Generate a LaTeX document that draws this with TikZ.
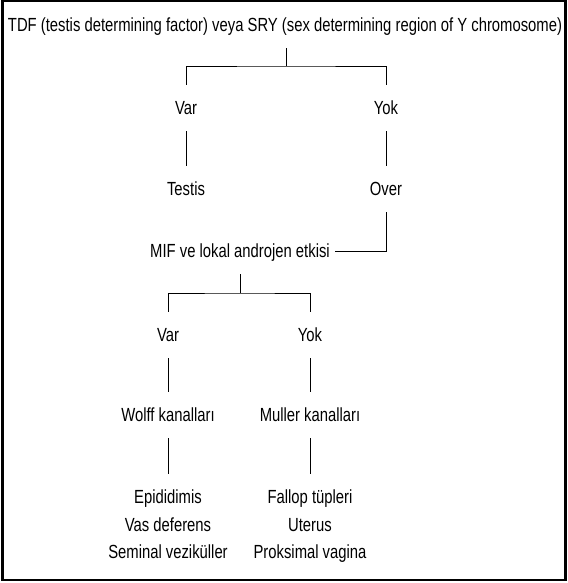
\documentclass[tikz,border=0pt]{standalone}
\usepackage{fontspec}
\setmainfont{Liberation Sans}[FakeStretch=0.78]
\begin{document}
\begin{tikzpicture}[x=1pt,y=-1pt,align=center,
  lbl/.style={inner xsep=4pt,inner ysep=0pt,text height=13.6pt,text depth=0pt,minimum height=46pt,font=\fontsize{19}{27.5}\selectfont},
  liste/.style={inner xsep=0pt,inner ysep=16pt,anchor=north,font=\fontsize{19}{27.5}\selectfont},
  cizgi/.style={line width=0.8pt}]
\useasboundingbox (0,0) rectangle (567,583);
\draw [line width=2.5pt] (2.5,1) rectangle (565.5,580);
\node [lbl] (tdf) at (285,25) {TDF (testis determining factor) veya SRY (sex determining region of Y chromosome)};
\node [lbl] (var1) at (186,108) {Var};
\node [lbl] (yok1) at (386,108) {Yok};
\node [lbl] (testis) at (186,189) {Testis};
\node [lbl] (over) at (386,189) {Over};
\node [lbl,inner xsep=5pt] (mif) at (240,251) {MIF ve lokal androjen etkisi};
\node [lbl] (var2) at (168,335) {Var};
\node [lbl] (yok2) at (310,335) {Yok};
\node [lbl] (wolff) at (168,415) {Wolff kanalları};
\node [lbl] (muller) at (310,415) {Muller kanalları};
\node [liste] (erkek) at (168,474) {Epididimis\\Vas deferens\\Seminal veziküller};
\node [liste] (disi) at (310,474) {Fallop tüpleri\\Uterus\\Proksimal vagina};
\coordinate (b1) at (286,66);
\coordinate (b2) at (240,293);
\draw [cizgi] (tdf.south -| b1) -- (b1);
\draw [cizgi] (var1.north) |- (b1) -| (yok1.north);
\draw [cizgi] (var1) -- (testis);
\draw [cizgi] (yok1) -- (over);
\draw [cizgi] (over.south) |- (mif.east);
\draw [cizgi] (mif) -- (b2);
\draw [cizgi] (var2.north) |- (b2) -| (yok2.north);
\draw [cizgi] (var2) -- (wolff);
\draw [cizgi] (yok2) -- (muller);
\draw [cizgi] (wolff) -- (erkek);
\draw [cizgi] (muller) -- (disi);
\end{tikzpicture}
\end{document}
